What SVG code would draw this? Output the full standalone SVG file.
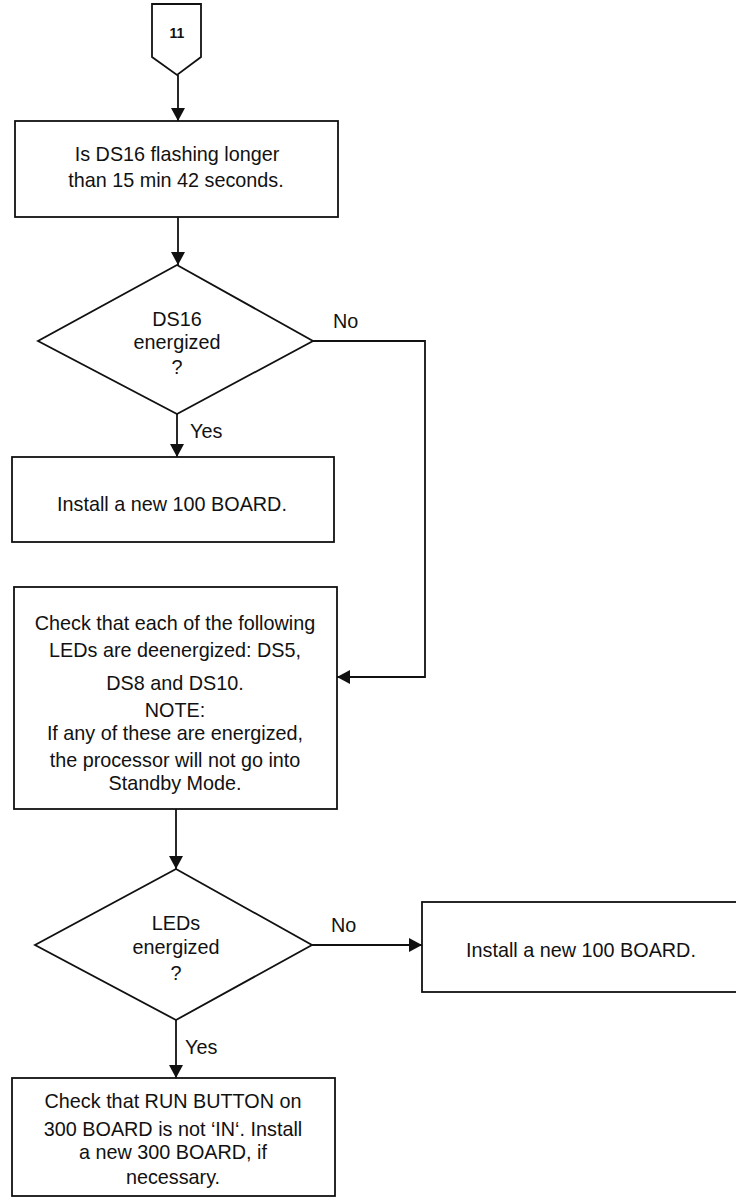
<svg xmlns="http://www.w3.org/2000/svg" width="736" height="1199" viewBox="0 0 736 1199">
<defs>
<style>
.s{fill:#fff;stroke:#111;stroke-width:1.8}
.c{fill:none;stroke:#111;stroke-width:1.8}
text{font-family:"Liberation Sans",Arial,sans-serif;font-size:19.8px;fill:#111;text-anchor:middle}
.l{text-anchor:start}
</style>
<marker id="ah" viewBox="0 0 13 14" refX="13" refY="7" markerWidth="13" markerHeight="14" markerUnits="userSpaceOnUse" orient="auto">
<path d="M0,0 L13,7 L0,14 Z" fill="#111"/>
</marker>
</defs>
<rect width="736" height="1199" fill="#fff"/>
<g id="connectors">
<line class="c" x1="178" y1="75" x2="178" y2="121" marker-end="url(#ah)"/>
<line class="c" x1="178" y1="217" x2="178" y2="265" marker-end="url(#ah)"/>
<polyline class="c" points="313,341 425,341 425,677 337,677" marker-end="url(#ah)"/>
<line class="c" x1="177" y1="414" x2="177" y2="457" marker-end="url(#ah)"/>
<line class="c" x1="176" y1="809" x2="176" y2="869" marker-end="url(#ah)"/>
<line class="c" x1="312" y1="945" x2="422" y2="945" marker-end="url(#ah)"/>
<line class="c" x1="176" y1="1020" x2="176" y2="1078" marker-end="url(#ah)"/>
<text class="l" x="333" y="328">No</text>
<text class="l" x="190" y="438">Yes</text>
<text class="l" x="331" y="932">No</text>
<text class="l" x="185" y="1054">Yes</text>
</g>
<g id="n11">
<polygon class="s" points="152,4 201,4 201,57 177,75 152,57"/>
<text x="177" y="38" style="font-size:14px;font-weight:bold">11</text>
</g>
<g id="n1">
<rect class="s" x="15" y="121" width="323" height="96"/>
<text x="177" y="161">Is DS16 flashing longer</text>
<text x="176" y="187">than 15 min 42 seconds.</text>
</g>
<g id="d1">
<polygon class="s" points="177,265 313,341 177,414 38,341"/>
<text x="177" y="326">DS16</text>
<text x="177" y="349">energized</text>
<text x="177" y="374">?</text>
</g>
<g id="n2">
<rect class="s" x="12" y="457" width="322" height="85"/>
<text x="172" y="511">Install a new 100 BOARD.</text>
</g>
<g id="n3">
<rect class="s" x="14" y="587" width="323" height="222"/>
<text x="175" y="630">Check that each of the following</text>
<text x="175" y="657">LEDs are deenergized: DS5,</text>
<text x="175" y="690">DS8 and DS10.</text>
<text x="175" y="717">NOTE:</text>
<text x="175" y="740">If any of these are energized,</text>
<text x="175" y="767">the processor will not go into</text>
<text x="175" y="790">Standby Mode.</text>
</g>
<g id="d2">
<polygon class="s" points="176,869 312,945 176,1020 35,945"/>
<text x="176" y="930">LEDs</text>
<text x="176" y="954">energized</text>
<text x="176" y="980">?</text>
</g>
<g id="n4">
<rect class="s" x="422" y="902" width="320" height="90"/>
<text x="581" y="957">Install a new 100 BOARD.</text>
</g>
<g id="n5">
<rect class="s" x="12" y="1078" width="323" height="118"/>
<text x="173" y="1108">Check that RUN BUTTON on</text>
<text x="173" y="1136">300 BOARD is not ‘IN‘. Install</text>
<text x="173" y="1159">a new 300 BOARD, if</text>
<text x="173" y="1184">necessary.</text>
</g>
</svg>
